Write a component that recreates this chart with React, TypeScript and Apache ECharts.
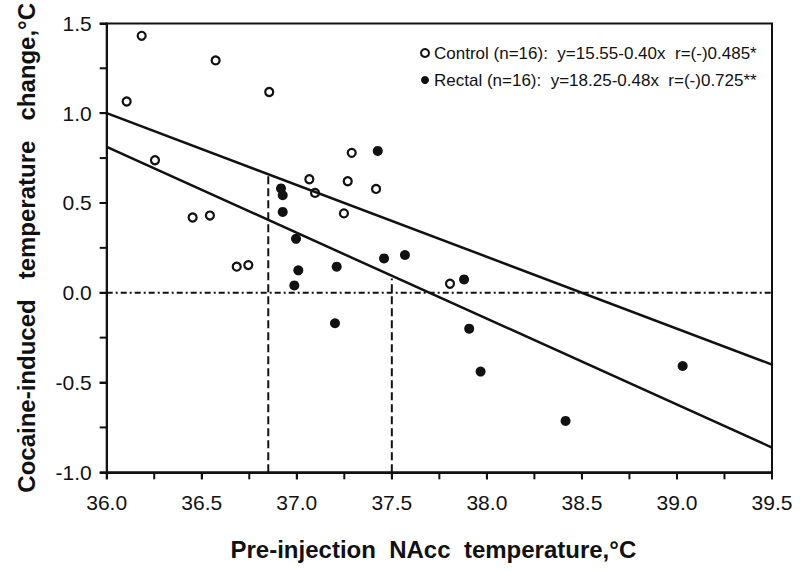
import React, { useEffect, useRef } from "react";
import * as echarts from "echarts";

// Data
const controlPoints: [number, number][] = [
  [36.105, 1.065], [36.184, 1.431], [36.254, 0.738], [36.452, 0.419],
  [36.543, 0.43], [36.573, 1.294], [36.684, 0.145], [36.745, 0.154],
  [36.855, 1.118], [37.066, 0.632], [37.096, 0.556], [37.248, 0.442],
  [37.268, 0.621], [37.289, 0.779], [37.417, 0.578], [37.806, 0.05],
];
const rectalPoints: [number, number][] = [
  [36.917, 0.581], [36.926, 0.543], [36.926, 0.45], [36.996, 0.3],
  [37.008, 0.125], [36.987, 0.041], [37.21, 0.145], [37.201, -0.17],
  [37.426, 0.79], [37.459, 0.191], [37.569, 0.21], [37.88, 0.074],
  [37.907, -0.2], [37.967, -0.439], [38.414, -0.714], [39.03, -0.408],
];
const controlFit: [number, number][] = [[36.0, 1.0], [39.5, -0.4]];
const rectalFit: [number, number][] = [[36.0, 0.812], [39.5, -0.862]];
const zeroLine: [number, number][] = [[36.0, 0.0], [39.5, 0.0]];
const dropLine1: [number, number][] = [[36.85, -1.0], [36.85, 0.66]];
const dropLine2: [number, number][] = [[37.5, -1.0], [37.5, 0.08]];

const xRange = { min: 36.0, max: 39.5, major: 0.5 };
const yRange = { min: -1.0, max: 1.5, major: 0.5 };
const xTickValues = [
  36.0, 36.25, 36.5, 36.75, 37.0, 37.25, 37.5, 37.75,
  38.0, 38.25, 38.5, 38.75, 39.0, 39.25, 39.5,
];
const yTickValues = [-1.0, -0.75, -0.5, -0.25, 0.0, 0.25, 0.5, 0.75, 1.0, 1.25, 1.5];

const seriesNames = ["Control", "Rectal"];
const legendTexts: Record<string, string> = {
  Control: "Control (n=16):  y=15.55-0.40x  r=(-)0.485*",
  Rectal: "Rectal (n=16):  y=18.25-0.48x  r=(-)0.725**",
};
const xTitle = "Pre-injection  NAcc  temperature,°C";
const yTitle = "Cocaine-induced   temperature   change,°C";

const INK = "#111";
const FONT = "'Liberation Sans', Arial, Helvetica, sans-serif";
const TICK_LEN = 7;

export default function App() {
  const ref = useRef<HTMLDivElement>(null);
  useEffect(() => {
    if (!ref.current) return;
    const chart = echarts.init(ref.current, undefined, { renderer: "svg" });
    const labelStyle = { fontSize: 21, color: INK, fontFamily: FONT };
    const nameStyle = {
      fontSize: 24,
      fontWeight: "bold",
      color: INK,
      fontFamily: FONT,
      lineHeight: 24,
    };
    const mainAxis = (r: typeof xRange, margin: number) => ({
      type: "value",
      min: r.min,
      max: r.max,
      interval: r.major,
      axisLine: { show: true, onZero: false, lineStyle: { color: INK, width: 2 } },
      axisTick: { show: true, length: TICK_LEN, lineStyle: { color: INK, width: 2 } },
      splitLine: { show: false },
      axisLabel: { ...labelStyle, margin, formatter: (v: number) => v.toFixed(1) },
    });
    const lineSeries = (data: [number, number][], type: any, width: number) => ({
      type: "line",
      data,
      showSymbol: false,
      symbol: "none",
      silent: true,
      lineStyle: { color: INK, width, type },
    });
    const tickSeries = (data: [number, number][], dir: "down" | "left") => ({
      type: "custom",
      coordinateSystem: "cartesian2d",
      silent: true,
      clip: false,
      data,
      renderItem: (_params: any, api: any) => {
        const p = api.coord([api.value(0), api.value(1)]);
        const x2 = dir === "left" ? p[0] - TICK_LEN : p[0];
        const y2 = dir === "down" ? p[1] + TICK_LEN : p[1];
        return {
          type: "line",
          shape: { x1: p[0], y1: p[1], x2, y2 },
          style: { stroke: INK, lineWidth: 2 },
        };
      },
    });
    chart.setOption({
      animation: false,
      backgroundColor: "#fff",
      grid: {
        left: 106.7,
        right: 28,
        top: 22.7,
        bottom: 98.7,
        show: true,
        borderColor: INK,
        borderWidth: 2,
      },
      legend: {
        data: seriesNames,
        orient: "vertical",
        left: 415,
        top: 39.5,
        itemWidth: 8,
        itemHeight: 8,
        itemGap: 10,
        selectedMode: false,
        formatter: (name: string) => legendTexts[name],
        textStyle: { fontSize: 17, lineHeight: 17, color: INK, fontFamily: FONT },
      },
      xAxis: {
        ...mainAxis(xRange, 20),
        name: xTitle,
        nameLocation: "middle",
        nameGap: 64.7,
        nameTextStyle: { ...nameStyle, padding: [0, 12, 0, 0] },
      },
      yAxis: {
        ...mainAxis(yRange, 15),
        name: yTitle,
        nameLocation: "middle",
        nameRotate: 90,
        nameGap: 68.7,
        nameTextStyle: nameStyle,
      },
      series: [
        lineSeries(zeroLine, [6, 3, 2, 3], 1.8),
        lineSeries(dropLine1, [8, 4], 2),
        lineSeries(dropLine2, [8, 4], 2),
        lineSeries(controlFit, "solid", 2.5),
        lineSeries(rectalFit, "solid", 2.5),
        tickSeries(xTickValues.map((v) => [v, yRange.min] as [number, number]), "down"),
        tickSeries(yTickValues.map((v) => [xRange.min, v] as [number, number]), "left"),
        {
          type: "scatter",
          name: seriesNames[0],
          data: controlPoints,
          symbol: "circle",
          symbolSize: 8,
          itemStyle: { color: "#fff", borderColor: INK, borderWidth: 2.2, opacity: 1 },
        },
        {
          type: "scatter",
          name: seriesNames[1],
          data: rectalPoints,
          symbol: "circle",
          symbolSize: 10,
          itemStyle: { color: INK, opacity: 1 },
        },
      ],
    });
    return () => chart.dispose();
  }, []);
  return (
    <div
      ref={ref}
      style={{ position: "fixed", left: 0, top: 0, width: 800, height: 571, background: "#fff" }}
    />
  );
}
